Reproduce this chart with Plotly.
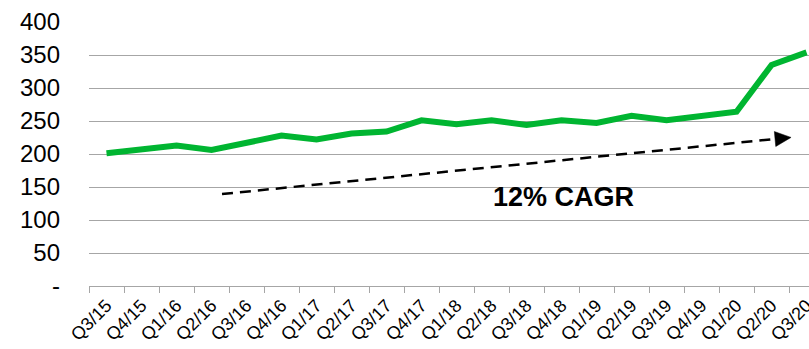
import plotly.graph_objects as go

# Quarterly series
quarters = ["Q3/15", "Q4/15", "Q1/16", "Q2/16", "Q3/16", "Q4/16", "Q1/17",
            "Q2/17", "Q3/17", "Q4/17", "Q1/18", "Q2/18", "Q3/18", "Q4/18",
            "Q1/19", "Q2/19", "Q3/19", "Q4/19", "Q1/20", "Q2/20", "Q3/20"]
values = [201, 206, 213, 206, 217, 228, 222, 231, 234, 251, 245, 251,
          244, 251, 247, 258, 251, 257, 264, 335, 354]

# Y axis ticks (accounting style: zero shown as a dash)
y_tickvals = [0, 50, 100, 150, 200, 250, 300, 350, 400]
y_ticktext = ["-", "50", "100", "150", "200", "250", "300", "350", "400"]

# Trend arrow (category index, value) and its label
trend_start = (3.3, 139.4)
trend_end = (19.1, 222.7)
trend_label = "12% CAGR"
label_pos = (13.05, 135.5)

FONT = "Liberation Sans, Arial, sans-serif"
GRID = "#A6A6A6"

fig = go.Figure()
fig.add_trace(go.Scatter(
    x=quarters, y=values, mode="lines",
    line=dict(color="#00B531", width=6),
    hoverinfo="x+y", showlegend=False,
))

# dashed trend line
fig.add_shape(type="line", xref="x", yref="y",
              x0=trend_start[0], y0=trend_start[1],
              x1=trend_end[0], y1=trend_end[1],
              line=dict(color="black", width=2.5, dash="11px,7px"))
# arrowhead drawn in pixel units at the end of the trend line
fig.add_shape(type="path", xref="x", yref="y",
              xsizemode="pixel", ysizemode="pixel",
              xanchor=trend_end[0], yanchor=trend_end[1],
              path="M -0.7,7.5 L 16,1.6 L 0.7,-7.5 Z",
              fillcolor="black", line=dict(color="black", width=0.5))

fig.add_annotation(x=label_pos[0], y=label_pos[1], xref="x", yref="y",
                   text="<b>" + trend_label + "</b>", showarrow=False,
                   font=dict(family=FONT, size=27, color="black"))

fig.update_layout(
    width=809, height=349,
    margin=dict(l=89, r=0, t=22, b=63),
    paper_bgcolor="white", plot_bgcolor="white",
    font=dict(family=FONT, color="black"),
)
fig.update_xaxes(
    type="category", range=[-0.5, 20.07], automargin=False,
    tickson="boundaries", ticks="outside", ticklen=6, tickcolor=GRID,
    showline=True, linecolor=GRID, linewidth=1,
    showgrid=False, tickangle=-45, ticklabelstandoff=1,
    tickfont=dict(family=FONT, size=18, color="black"),
)
fig.update_yaxes(
    range=[0, 400], tickvals=y_tickvals, ticktext=y_ticktext,
    automargin=False,
    showgrid=True, gridcolor=GRID, gridwidth=1, zeroline=False,
    showline=False, ticks="", ticklabelstandoff=28,
    tickfont=dict(family=FONT, size=24, color="black"),
)

fig.write_html("out.html")
